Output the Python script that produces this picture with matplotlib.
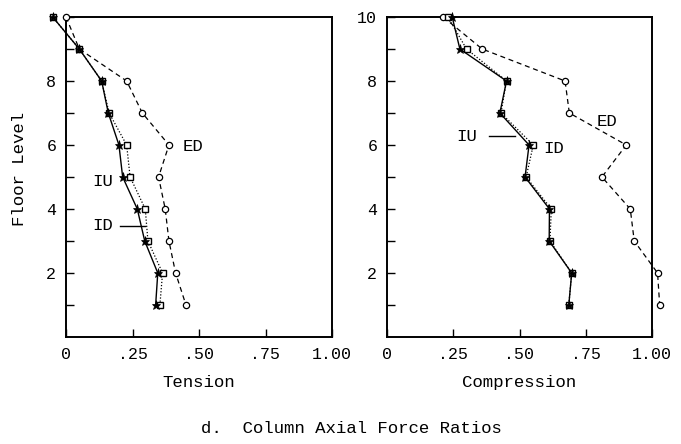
import matplotlib
matplotlib.use("Agg")
import matplotlib.pyplot as plt
from matplotlib.ticker import FixedLocator, FixedFormatter

plt.rcParams["font.family"] = ["Liberation Mono", "DejaVu Sans Mono"]

floors = [10, 9, 8, 7, 6, 5, 4, 3, 2, 1]

# Tension ratios
ten_id = [-0.05, 0.05, 0.134, 0.159, 0.199, 0.213, 0.268, 0.296, 0.345, 0.337]
ten_iu = [-0.05, 0.05, 0.134, 0.162, 0.228, 0.241, 0.298, 0.308, 0.363, 0.353]
ten_ed = [0.0, 0.05, 0.228, 0.287, 0.387, 0.348, 0.373, 0.387, 0.412, 0.451]

# Compression ratios
com_id = [0.246, 0.275, 0.451, 0.426, 0.536, 0.521, 0.613, 0.612, 0.697, 0.686]
com_iu = [0.230, 0.300, 0.451, 0.430, 0.552, 0.525, 0.620, 0.615, 0.697, 0.686]
com_ed = [0.212, 0.359, 0.672, 0.688, 0.903, 0.811, 0.918, 0.933, 1.021, 1.029]

xticks = [0, 0.25, 0.5, 0.75, 1.0]
xticklabels = ["0", ".25", ".50", ".75", "1.00"]

W, H = 681, 444
fig = plt.figure(figsize=(W / 100, H / 100), dpi=100)


def px_rect(l, t, r, b):
    return [l / W, 1 - b / H, (r - l) / W, (b - t) / H]


ax1 = fig.add_axes(px_rect(66, 17, 332, 337))
ax2 = fig.add_axes(px_rect(387, 17, 652, 337))


def draw(ax, xid, xiu, xed, ylabels):
    ax.plot(xed, floors, color="black", lw=0.9, ls=(0, (4, 3)),
            marker="o", ms=4.5, mfc="white", mec="black", mew=0.9, clip_on=False, zorder=3)
    ax.plot(xiu, floors, color="black", lw=0.9, ls=(0, (1, 1.5)),
            marker="s", ms=4.5, mfc="white", mec="black", mew=1.0, clip_on=False, zorder=3)
    ax.plot(xid, floors, color="black", lw=1.0, ls="-",
            marker="*", ms=6.5, mfc="black", mec="black", mew=0.5, clip_on=False, zorder=4)
    ax.set_xlim(0, 1.0)
    ax.set_ylim(0, 10)
    ax.xaxis.set_major_locator(FixedLocator(xticks))
    ax.xaxis.set_major_formatter(FixedFormatter(xticklabels))
    ax.yaxis.set_major_locator(FixedLocator([2, 4, 6, 8, 10]))
    ax.yaxis.set_major_formatter(FixedFormatter(ylabels))
    ax.yaxis.set_minor_locator(FixedLocator([1, 3, 5, 7, 9]))
    ax.tick_params(axis="both", which="both", direction="in", length=6, width=1.0,
                   labelsize=12, colors="black")
    ax.tick_params(axis="x", pad=7)
    ax.tick_params(axis="y", pad=7)
    for s in ax.spines.values():
        s.set_linewidth(1.4)
        s.set_color("black")


draw(ax1, ten_id, ten_iu, ten_ed, ["2", "4", "6", "8", ""])
draw(ax2, com_id, com_iu, com_ed, ["2", "4", "6", "8", "10"])

# Series labels
fs = 12.5
ax1.text(0.44, 5.95, "ED", fontsize=fs, va="center", ha="left")
ax1.text(0.10, 4.85, "IU", fontsize=fs, va="center", ha="left")
ax1.text(0.10, 3.47, "ID", fontsize=fs, va="center", ha="left")
ax1.plot([0.203, 0.297], [3.47, 3.47], color="black", lw=1.0)

ax2.text(0.79, 6.73, "ED", fontsize=fs, va="center", ha="left")
ax2.text(0.262, 6.27, "IU", fontsize=fs, va="center", ha="left")
ax2.plot([0.386, 0.483], [6.29, 6.29], color="black", lw=1.0)
ax2.text(0.59, 5.88, "ID", fontsize=fs, va="center", ha="left")

# Axis titles and caption
fig.text(199 / W, 1 - 382 / H, "Tension", fontsize=12.5, ha="center", va="center")
fig.text(519 / W, 1 - 382 / H, "Compression", fontsize=12.5, ha="center", va="center")
fig.text(20 / W, 1 - 169 / H, "Floor Level", fontsize=12.5, ha="center", va="center",
         rotation=90)
fig.text(351 / W, 1 - 428 / H, "d.  Column Axial Force Ratios", fontsize=12.5,
         ha="center", va="center")

fig.savefig("out.png", dpi=100, facecolor="white")
